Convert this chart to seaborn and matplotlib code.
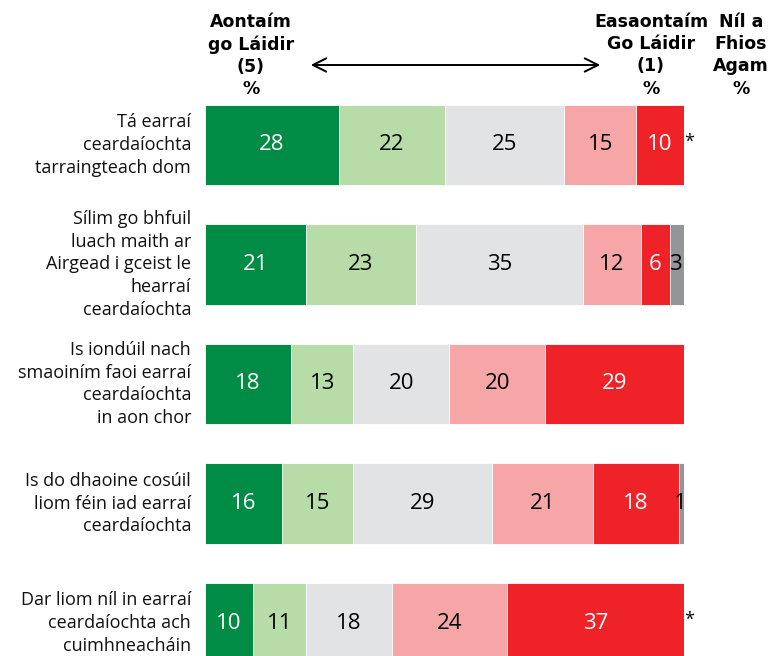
import numpy as np
import pandas as pd
import matplotlib
matplotlib.use('Agg')
import matplotlib.pyplot as plt
import seaborn as sns

# statements (left side labels)
statements = [
    "Tá earraí\nceardaíochta\ntarraingteach dom",
    "Sílim go bhfuil\nluach maith ar\nAirgead i gceist le\nhearraí\nceardaíochta",
    "Is iondúil nach\nsmaoiním faoi earraí\nceardaíochta\nin aon chor",
    "Is do dhaoine cosúil\nliom féin iad earraí\nceardaíochta",
    "Dar liom níl in earraí\nceardaíochta ach\ncuimhneacháin",
]

# percentages per answer, strongly agree (5) -> strongly disagree (1), don't know
agree_5 = [28, 21, 18, 16, 10]
agree_4 = [22, 23, 13, 15, 11]
neutral_3 = [25, 35, 20, 29, 18]
disagree_2 = [15, 12, 20, 21, 24]
disagree_1 = [10, 6, 29, 18, 37]
dont_know = [0, 3, 0, 1, 0]
dont_know_labels = ["*", "3", "", "1", "*"]

series = [agree_5, agree_4, neutral_3, disagree_2, disagree_1, dont_know]
colors = ["#008C45", "#B8DCA8", "#E2E3E5", "#F6A6A7", "#EE2227", "#939598"]
text_colors = ["white", "black", "black", "black", "white", "black"]

sns.set_style("white")
num_font = "Open Sans"

W, H = 771, 656
fig = plt.figure(figsize=(W / 100, H / 100), dpi=100)
ax = fig.add_axes([205 / W, 0, 479 / W, 566 / H])

df = pd.DataFrame(np.array(series).T, columns=["s5", "s4", "s3", "s2", "s1", "dk"])
df["statement"] = statements
cum = df[["s5", "s4", "s3", "s2", "s1", "dk"]].cumsum(axis=1)

# layered cumulative bars, widest first
cols = list(cum.columns)
for j in reversed(range(len(cols))):
    sns.barplot(x=cum[cols[j]].values, y=df["statement"], orient="h", color=colors[j],
                saturation=1, width=0.67, edgecolor="white", linewidth=0.6, ax=ax)

ax.set_xlim(0, 100)
ax.set_ylim(4.276, -0.46)
ax.set_yticks([])
ax.set_xticks([])
ax.set_xlabel("")
ax.set_ylabel("")
for s in ax.spines.values():
    s.set_visible(False)

# segment labels
for i in range(len(statements)):
    left = 0
    for j, vals in enumerate(series):
        v = vals[i]
        if j < 5 and v > 0:
            ax.text(left + v / 2, i, str(v), ha="center", va="center", color=text_colors[j],
                    fontsize=16, family=num_font)
        left += v
    lab = dont_know_labels[i]
    if lab == "*":
        ax.text(100.0, i - 0.03, "*", ha="left", va="center", fontsize=13,
                family=num_font, color="black")
    elif lab:
        ax.text(100 - dont_know[i] / 2 - 0.3, i, lab, ha="center", va="center",
                fontsize=16, family=num_font, color="black", clip_on=False)

# statement labels
for i, st in enumerate(statements):
    ax.text(-2.9, i, st, ha="right", va="center", fontsize=13, family=num_font,
            linespacing=1.34, color="#111111")

# column headers
hdr = dict(ha="center", va="top", fontsize=12.5, fontweight="bold", family="DejaVu Sans",
           linespacing=1.3, color="black")
fig.text(251 / W, 1 - 13 / H, "Aontaím\ngo Láidir\n(5)\n%", **hdr)
fig.text(651 / W, 1 - 13 / H, "Easaontaím\nGo Láidir\n(1)\n%", **hdr)
fig.text(741 / W, 1 - 13 / H, "Níl a\nFhios\nAgam\n%", **hdr)

ax.annotate("", xy=(603 / W, 1 - 65 / H), xytext=(308 / W, 1 - 65 / H),
            xycoords="figure fraction", textcoords="figure fraction",
            arrowprops=dict(arrowstyle="<->", lw=1.4, mutation_scale=24, color="black"))

fig.savefig("out.png", dpi=100)
